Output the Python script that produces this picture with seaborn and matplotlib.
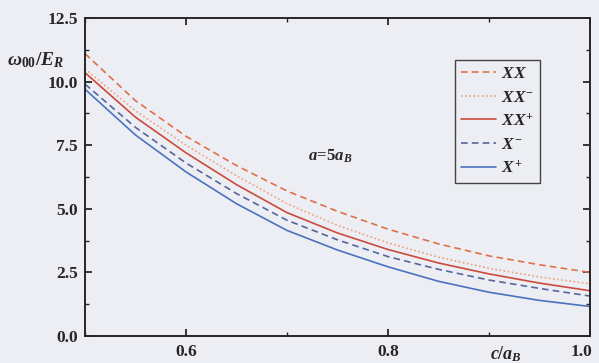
import matplotlib
matplotlib.use("Agg")
import matplotlib.pyplot as plt
import matplotlib.transforms as mtrans
import seaborn as sns
import pandas as pd
from matplotlib.ticker import MultipleLocator

# ---- data ----
c_over_aB = [0.50, 0.55, 0.60, 0.65, 0.70, 0.75, 0.80, 0.85, 0.90, 0.95, 1.00]
XX       = [11.10, 9.25, 7.85, 6.70, 5.70, 4.90, 4.20, 3.62, 3.15, 2.80, 2.50]
XX_minus = [10.50, 8.85, 7.50, 6.30, 5.20, 4.35, 3.66, 3.10, 2.66, 2.32, 2.05]
XX_plus  = [10.35, 8.60, 7.20, 5.95, 4.85, 4.05, 3.40, 2.87, 2.44, 2.08, 1.78]
X_minus  = [9.90, 8.20, 6.80, 5.60, 4.55, 3.78, 3.12, 2.62, 2.20, 1.87, 1.57]
X_plus   = [9.70, 7.90, 6.45, 5.20, 4.15, 3.38, 2.72, 2.15, 1.72, 1.40, 1.16]
labels = [r'$XX$', r'$XX^{-}$', r'$XX^{+}$', r'$X^{-}$', r'$X^{+}$']
x_ticks = [0.6, 0.8, 1.0]
y_ticks = [0.0, 2.5, 5.0, 7.5, 10.0, 12.5]

series = [XX, XX_minus, XX_plus, X_minus, X_plus]
colors = ['#e0704a', '#eea27a', '#cc4a3c', '#56659e', '#4a72c0']
styles = [(0, (4, 2.5)), (0, (1, 1.5)), '-', (0, (4, 2.5)), '-']

sns.set_theme(style="ticks")
plt.rcParams['font.family'] = ['Liberation Serif', 'DejaVu Serif']
plt.rcParams['mathtext.fontset'] = 'custom'
plt.rcParams['mathtext.it'] = 'Liberation Serif:italic:bold'
plt.rcParams['mathtext.rm'] = 'Liberation Serif:bold'
plt.rcParams['mathtext.bf'] = 'Liberation Serif:bold'

bg = '#eceef3'
ink = '#262626'
fig = plt.figure(figsize=(5.99, 3.63), dpi=100, facecolor=bg)
ax = fig.add_axes([85/599, 1-336/363, (590-85)/599, (336-18)/363])
ax.set_facecolor(bg)

for ys, lab, col, ls in zip(series, labels, colors, styles):
    df = pd.DataFrame({'x': c_over_aB, 'y': ys})
    sns.lineplot(data=df, x='x', y='y', ax=ax, color=col, linestyle=ls,
                 linewidth=1.2, label=lab)

ax.set_xlim(0.5, 1.0)
ax.set_ylim(0, 12.5)
ax.set_xticks(x_ticks)
ax.set_yticks(y_ticks)
ax.set_xticklabels([f'{v:.1f}' for v in x_ticks], fontweight='bold', fontsize=12.5, color=ink)
ax.set_yticklabels([f'{v:.1f}' for v in y_ticks], fontweight='bold', fontsize=12.5, color=ink)
ax.xaxis.set_minor_locator(MultipleLocator(0.1))
ax.yaxis.set_minor_locator(MultipleLocator(1.25))
ax.tick_params(which='both', direction='in', top=True, right=True, color=ink)
ax.tick_params(which='major', length=5, width=1.3)
ax.tick_params(which='minor', length=3, width=1.0)
ax.tick_params(axis='x', pad=6)
ax.tick_params(axis='y', pad=5)
for s in ax.spines.values():
    s.set_linewidth(1.4)
    s.set_color(ink)
ax.set_xlabel('')
ax.set_ylabel('')

# keep the last x tick label inside the figure
last = ax.get_xticklabels()[-1]
last.set_transform(last.get_transform() + mtrans.ScaledTranslation(-9/100, 0, fig.dpi_scale_trans))

fig.text(36/599, 1-60/363, r'$\omega_{00}/E_R$', fontsize=14, ha='center', va='center',
         color=ink)
fig.text(506/599, 1-354/363, r'$c/a_B$', fontsize=13, ha='center', va='center',
         color=ink)
ax.text(0.743, 7.05, r'$a\!=\!5a_B$', fontsize=12, ha='center', va='center', color=ink)

leg = ax.legend(loc='upper right', bbox_to_anchor=((540-85)/(590-85), (336-60)/(336-18)),
                borderaxespad=0, fontsize=12.5, frameon=True, fancybox=False,
                handlelength=2.0, handletextpad=0.3, labelspacing=0.42, borderpad=0.35)
for t in leg.get_texts():
    t.set_color(ink)
leg.get_frame().set_edgecolor('#444444')
leg.get_frame().set_facecolor(bg)
leg.get_frame().set_linewidth(1.0)
leg.get_frame().set_alpha(1)

fig.savefig('out.png', dpi=100, facecolor=bg)
